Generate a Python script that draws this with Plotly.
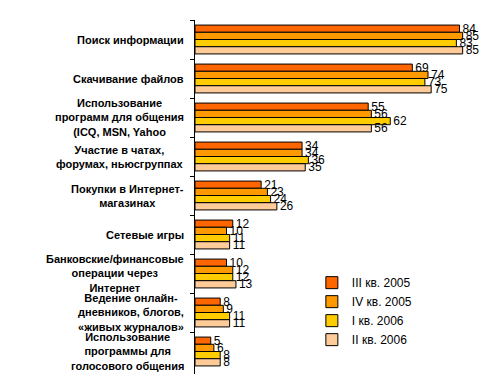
import plotly.graph_objects as go

categories = [
    "Поиск информации",
    "Скачивание файлов",
    "Использование<br>программ для общения<br>(ICQ, MSN, Yahoo",
    "Участие в чатах,<br>форумах, ньюсгруппах",
    "Покупки в Интернет-<br>магазинах",
    "Сетевые игры",
    "Банковские/финансовые<br>операции через<br>Интернет",
    "Ведение онлайн-<br>дневников, блогов,<br>«живых журналов»",
    "Использование<br>программы для<br>голосового общения",
]

series_names = ["III кв. 2005", "IV кв. 2005", "I кв. 2006", "II кв. 2006"]
q3_2005 = [84, 69, 55, 34, 21, 12, 10, 8, 5]
q4_2005 = [85, 74, 56, 34, 23, 10, 12, 9, 6]
q1_2006 = [83, 73, 62, 36, 24, 11, 12, 11, 8]
q2_2006 = [85, 75, 56, 35, 26, 11, 13, 11, 8]
series_values = [q3_2005, q4_2005, q1_2006, q2_2006]
colors = ["#FF6600", "#FF9900", "#FFCC00", "#FFCC99"]

FONT = "Liberation Sans, Arial, sans-serif"

fig = go.Figure()
for name, vals, col in zip(series_names, series_values, colors):
    fig.add_trace(go.Bar(
        y=categories, x=vals, name=name, orientation="h",
        marker=dict(color=col, line=dict(color="black", width=1)),
        text=[str(v) for v in vals], textposition="outside",
        textfont=dict(size=12, color="black", family=FONT),
        constraintext="none", cliponaxis=False,
    ))

for cat in categories:
    fig.add_annotation(
        x=0, xref="paper", y=cat, yref="y", text=cat,
        xanchor="right", xshift=-9, align="center", showarrow=False,
        font=dict(size=11, color="black", family=FONT, weight="bold"),
    )

fig.update_layout(
    width=491, height=372,
    margin=dict(l=187, r=2, t=12, b=6),
    paper_bgcolor="white", plot_bgcolor="white",
    barmode="group", bargap=0.26, bargroupgap=0,
    font=dict(family=FONT, size=12, color="black"),
    showlegend=True,
    legend=dict(
        x=0.387, y=0.299, xanchor="left", yanchor="top",
        font=dict(size=12, color="black", family=FONT),
        bgcolor="rgba(0,0,0,0)", tracegroupgap=0,
    ),
    xaxis=dict(range=[0, 95.9], showgrid=False, zeroline=False,
               showline=False, showticklabels=False, ticks=""),
    yaxis=dict(autorange="reversed", showgrid=False, zeroline=False,
               showline=True, linecolor="black", linewidth=1,
               ticks="outside", ticklen=4, tickcolor="black",
               tickson="boundaries", showticklabels=False),
)

fig.write_html("out.html")
